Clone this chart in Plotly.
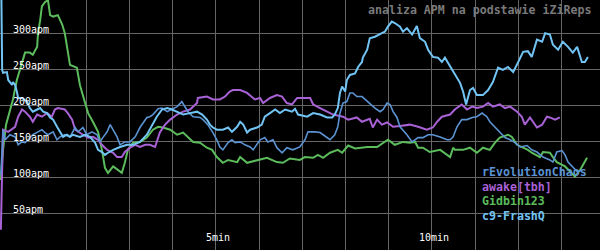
import plotly.graph_objects as go

# ---- data (minutes, APM) ----
revo_t = [0.02, 0.07, 0.12, 0.23, 0.35, 0.42, 0.51, 0.58, 0.65, 0.76, 0.88, 0.97, 1.04, 1.11, 1.23, 1.32, 1.39, 1.50, 1.62, 1.74, 1.81, 1.92, 2.01, 2.13, 2.25, 2.31, 2.38, 2.48, 2.55, 2.62, 2.71, 2.78, 2.89, 3.01, 3.13, 3.24, 3.31, 3.40, 3.47, 3.54, 3.66, 3.75, 3.87, 3.98, 4.10, 4.21, 4.28, 4.35, 4.47, 4.63, 4.70, 4.81, 4.93, 5.02, 5.09, 5.16, 5.28, 5.37, 5.44, 5.56, 5.67, 5.79, 5.86, 5.95, 6.02, 6.13, 6.20, 6.32, 6.41, 6.53, 6.64, 6.78, 6.94, 7.06, 7.13, 7.29, 7.41, 7.48, 7.57, 7.64, 7.75, 7.82, 7.87, 7.94, 8.03, 8.10, 8.17, 8.26, 8.38, 8.45, 8.52, 8.68, 8.80, 8.87, 8.96, 9.03, 9.10, 9.19, 9.26, 9.42, 9.54, 9.61, 9.68, 9.79, 9.91, 10.02, 10.19, 10.35, 10.42, 10.49, 10.58, 10.69, 10.81, 10.93, 11.04, 11.16, 11.27, 11.34, 11.46, 11.57, 11.69, 11.81, 11.92, 12.04, 12.20, 12.31, 12.43, 12.57, 12.73, 12.80, 12.89, 13.01, 13.08, 13.15, 13.24, 13.36, 13.47]
revo_apm = [104, 167, 153, 160, 157, 146, 150, 149, 153, 160, 164, 167, 163, 160, 164, 153, 157, 160, 157, 170, 164, 170, 160, 164, 160, 150, 156, 164, 174, 167, 157, 146, 150, 150, 157, 170, 177, 184, 185, 188, 196, 197, 192, 195, 199, 206, 199, 192, 185, 184, 181, 174, 163, 153, 143, 139, 149, 153, 149, 150, 146, 143, 139, 146, 153, 156, 150, 153, 142, 135, 142, 139, 143, 153, 164, 164, 163, 160, 156, 153, 160, 171, 190, 204, 206, 218, 218, 213, 213, 209, 206, 197, 192, 195, 204, 202, 192, 184, 171, 160, 150, 153, 156, 156, 160, 160, 157, 153, 153, 157, 171, 181, 181, 184, 185, 190, 185, 178, 170, 163, 156, 153, 149, 143, 145, 139, 136, 129, 125, 122, 136, 138, 132, 122, 116, 109, 111]

awake_t = [0.02, 0.07, 0.19, 0.35, 0.42, 0.51, 0.58, 0.69, 0.76, 0.86, 0.97, 1.09, 1.20, 1.27, 1.34, 1.50, 1.57, 1.67, 1.74, 1.81, 1.92, 2.04, 2.15, 2.27, 2.36, 2.48, 2.62, 2.71, 2.82, 2.89, 3.01, 3.13, 3.24, 3.36, 3.47, 3.59, 3.70, 3.82, 3.94, 4.10, 4.24, 4.40, 4.56, 4.58, 4.79, 4.93, 5.09, 5.21, 5.32, 5.39, 5.56, 5.72, 5.83, 5.90, 6.02, 6.09, 6.25, 6.41, 6.53, 6.64, 6.76, 6.88, 7.18, 7.25, 7.41, 7.57, 7.71, 7.94, 8.06, 8.26, 8.38, 8.56, 8.63, 8.73, 8.84, 8.96, 9.10, 9.26, 9.49, 9.68, 9.88, 10.02, 10.12, 10.23, 10.42, 10.53, 10.69, 10.81, 10.93, 11.04, 11.18, 11.30, 11.41, 11.57, 11.69, 11.81, 11.97, 12.08, 12.15, 12.27, 12.34, 12.43, 12.55, 12.66, 12.73, 12.85, 12.96]
awake_apm = [28, 167, 164, 171, 185, 195, 192, 185, 178, 188, 185, 190, 185, 195, 197, 195, 190, 181, 167, 164, 160, 156, 157, 153, 146, 139, 135, 129, 129, 136, 142, 146, 143, 146, 146, 143, 163, 174, 181, 188, 192, 195, 204, 211, 213, 209, 209, 213, 220, 222, 222, 218, 213, 209, 211, 204, 211, 215, 213, 204, 202, 211, 211, 202, 197, 192, 188, 185, 181, 184, 178, 182, 170, 181, 174, 177, 171, 172, 174, 171, 167, 170, 178, 185, 188, 195, 202, 195, 199, 197, 199, 204, 199, 202, 197, 199, 192, 185, 174, 184, 177, 170, 174, 185, 184, 181, 184]

gid_t = [0.02, 0.07, 0.14, 0.23, 0.30, 0.39, 0.51, 0.58, 0.69, 0.76, 0.86, 0.88, 0.93, 0.97, 1.04, 1.11, 1.16, 1.23, 1.34, 1.44, 1.50, 1.57, 1.62, 1.78, 1.85, 1.97, 2.04, 2.15, 2.27, 2.31, 2.36, 2.43, 2.50, 2.62, 2.73, 2.82, 2.89, 2.96, 3.08, 3.24, 3.40, 3.54, 3.66, 3.77, 3.94, 4.10, 4.24, 4.47, 4.63, 4.79, 4.91, 5.02, 5.16, 5.28, 5.49, 5.56, 5.72, 5.95, 6.18, 6.41, 6.55, 6.71, 6.94, 7.06, 7.25, 7.36, 7.48, 7.64, 7.82, 7.92, 8.06, 8.22, 8.50, 8.73, 8.98, 9.14, 9.33, 9.49, 9.61, 9.68, 9.79, 9.95, 10.19, 10.42, 10.49, 10.53, 10.72, 10.88, 11.04, 11.18, 11.34, 11.46, 11.57, 11.76, 11.85, 11.97, 12.08, 12.22, 12.31, 12.50, 12.57, 12.73, 12.80, 12.89, 13.08, 13.31, 13.43, 13.59]
gid_apm = [97, 139, 174, 195, 209, 236, 260, 274, 274, 271, 282, 301, 319, 338, 344, 347, 326, 324, 326, 313, 301, 274, 257, 253, 229, 204, 190, 178, 164, 153, 139, 114, 107, 116, 111, 107, 121, 139, 149, 150, 156, 167, 171, 170, 167, 160, 163, 150, 149, 142, 139, 129, 121, 125, 122, 129, 121, 125, 128, 122, 121, 127, 125, 129, 128, 132, 128, 135, 139, 135, 145, 141, 143, 143, 153, 146, 150, 149, 150, 142, 142, 136, 139, 129, 142, 139, 139, 142, 135, 142, 139, 149, 156, 160, 157, 146, 143, 139, 135, 129, 136, 135, 129, 122, 116, 102, 111, 128]

c9_t = [0.02, 0.05, 0.07, 0.16, 0.19, 0.28, 0.30, 0.35, 0.39, 0.42, 0.51, 0.63, 0.69, 0.76, 0.86, 0.93, 1.00, 1.09, 1.16, 1.23, 1.32, 1.39, 1.46, 1.55, 1.62, 1.69, 1.85, 1.97, 2.08, 2.20, 2.27, 2.36, 2.43, 2.50, 2.62, 2.78, 2.94, 3.08, 3.24, 3.40, 3.47, 3.54, 3.63, 3.75, 3.87, 3.98, 4.10, 4.24, 4.40, 4.56, 4.68, 4.79, 4.86, 4.93, 5.02, 5.16, 5.28, 5.37, 5.49, 5.56, 5.63, 5.72, 5.79, 5.95, 6.06, 6.13, 6.25, 6.37, 6.48, 6.60, 6.76, 6.83, 6.90, 7.11, 7.25, 7.41, 7.57, 7.69, 7.75, 7.82, 7.87, 7.92, 7.99, 8.03, 8.10, 8.22, 8.29, 8.38, 8.40, 8.50, 8.56, 8.68, 8.84, 8.91, 8.98, 9.07, 9.14, 9.26, 9.33, 9.42, 9.54, 9.65, 9.72, 9.84, 9.91, 10.02, 10.14, 10.23, 10.30, 10.37, 10.46, 10.53, 10.65, 10.72, 10.79, 10.88, 10.95, 11.04, 11.18, 11.30, 11.41, 11.53, 11.64, 11.76, 11.88, 11.99, 12.11, 12.22, 12.31, 12.43, 12.55, 12.62, 12.73, 12.80, 12.92, 13.03, 13.15, 13.26, 13.36, 13.47, 13.54, 13.61]
c9_apm = [420, 250, 246, 247, 236, 229, 233, 229, 220, 211, 211, 206, 197, 192, 195, 197, 192, 190, 184, 181, 171, 163, 157, 160, 157, 160, 157, 160, 157, 149, 139, 136, 132, 135, 139, 143, 146, 146, 150, 160, 167, 174, 185, 195, 197, 195, 192, 188, 190, 192, 188, 181, 174, 170, 167, 167, 170, 164, 171, 178, 174, 163, 167, 170, 174, 185, 190, 195, 190, 195, 192, 196, 188, 185, 190, 188, 184, 184, 188, 197, 218, 227, 220, 236, 243, 245, 254, 261, 267, 278, 294, 296, 301, 303, 310, 317, 315, 310, 303, 308, 299, 311, 294, 289, 278, 268, 267, 261, 267, 260, 250, 243, 232, 220, 202, 222, 225, 215, 215, 222, 233, 253, 250, 254, 247, 260, 275, 276, 268, 292, 289, 301, 299, 285, 278, 289, 282, 274, 282, 261, 261, 268]

names = ["rEvolutionChaos", "awake[tbh]", "Gidbin123", "c9-FrashQ"]
colors = ["#5b93d3", "#a862d6", "#5cbc5c", "#72c4f4"]
widths = [1.6, 2, 2, 2]

x_tickvals = list(range(0, 14))
x_ticktext = ["5min" if v == 5 else "10min" if v == 10 else "" for v in x_tickvals]
y_tickvals = [0, 50, 100, 150, 200, 250, 300]
y_ticktext = ["", "50apm", "100apm", "150apm", "200apm", "250apm", "300apm"]

title_text = "analiza APM na podstawie iZiReps"

series = [(revo_t, revo_apm), (awake_t, awake_apm), (gid_t, gid_apm), (c9_t, c9_apm)]

fig = go.Figure()
# draw order: green, purple, steel, light blue on top
for idx in [2, 1, 0, 3]:
    t, a = series[idx]
    fig.add_trace(go.Scatter(x=t, y=a, mode="lines", name=names[idx],
                             line=dict(color=colors[idx], width=widths[idx]),
                             showlegend=False, hoverinfo="skip"))

mono = "DejaVu Sans Mono"
fig.update_layout(
    width=600, height=250,
    margin=dict(l=0, r=0, t=0, b=0),
    paper_bgcolor="#000000", plot_bgcolor="#000000",
    xaxis=dict(range=[0, 13.89], tickvals=x_tickvals, ticktext=x_ticktext,
               showgrid=True, gridcolor="#666666", gridwidth=1, zeroline=False,
               ticklabelposition="inside", ticklabelstandoff=4, ticklabelshift=2,
               tickfont=dict(family=mono, size=10, color="#ffffff"), ticks=""),
    yaxis=dict(range=[0, 347], tickvals=y_tickvals, ticktext=y_ticktext,
               showgrid=True, gridcolor="#666666", gridwidth=1, zeroline=False,
               ticklabelposition="inside", ticklabelstandoff=10, ticklabelshift=-4,
               tickfont=dict(family=mono, size=10, color="#ffffff"), ticks=""),
)

fig.add_annotation(text="<b>" + title_text + "</b>", xref="paper", yref="paper", x=0.988, y=0.995,
                   xanchor="right", yanchor="top", showarrow=False,
                   font=dict(family=mono, size=11.6, color="#7a7a7a"))

legend_y = [0.313, 0.253, 0.196, 0.136]
for name, col, ly in zip(names, colors, legend_y):
    fig.add_annotation(text="<b>" + name + "</b>", xref="paper", yref="paper", x=0.8, y=ly,
                       xanchor="left", yanchor="middle", showarrow=False,
                       font=dict(family=mono, size=11.6, color=col))

fig.write_html("out.html")
